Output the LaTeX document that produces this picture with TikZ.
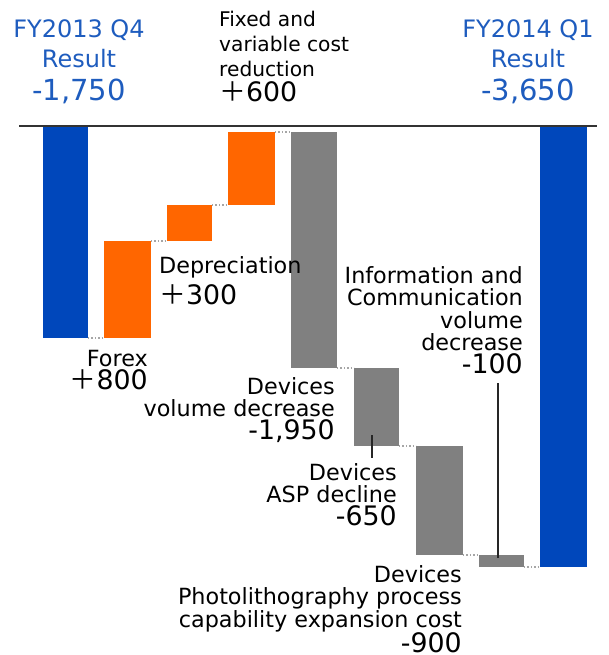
\documentclass[tikz,border=0pt]{standalone}
\usepackage{fontspec}
\setmainfont{DejaVu Sans}
\newfontfamily\cjk{Noto Sans CJK JP}
\definecolor{resblue}{HTML}{0047BB}
\definecolor{restext}{HTML}{1E5CBE}
\definecolor{upcol}{HTML}{FF6600}
\definecolor{downcol}{HTML}{808080}
\newcommand{\fwplus}{{\cjk ＋}}
\newcommand{\amt}[1]{{\fontsize{26.8}{22.5}\selectfont #1}}
\tikzset{
  wbar/.style={inner sep=0pt, outer sep=0pt, anchor=north west},
  link/.style={dotted, downcol!70, line width=1.4pt},
  lead/.style={black!85, line width=1.3pt},
  lbl/.style={inner sep=0pt, font=\fontsize{22.3}{22.6}\selectfont},
  head/.style={inner sep=0pt, text=restext, align=center, font=\fontsize{24}{30}\selectfont},
}
\begin{document}
\begin{tikzpicture}[x=1pt,y=-1pt]
\useasboundingbox (0,0) rectangle (608,655);
\draw[black!80, line width=1.2pt] (19,126) -- (597,126);
% bars
\node[wbar, fill=resblue, minimum width=45pt, minimum height=211pt] (q4) at (43,127) {};
\node[wbar, fill=upcol, minimum width=47pt, minimum height=97pt] (forex) at (104,241) {};
\node[wbar, fill=upcol, minimum width=45pt, minimum height=36pt] (depr) at (167,205) {};
\node[wbar, fill=upcol, minimum width=47pt, minimum height=73pt] (fixed) at (228,132) {};
\node[wbar, fill=downcol, minimum width=46pt, minimum height=236pt] (dvol) at (291,132) {};
\node[wbar, fill=downcol, minimum width=45pt, minimum height=78pt] (asp) at (354,368) {};
\node[wbar, fill=downcol, minimum width=47pt, minimum height=109pt] (photo) at (416,446) {};
\node[wbar, fill=downcol, minimum width=45pt, minimum height=12pt] (ict) at (479,555) {};
\node[wbar, fill=resblue, minimum width=47pt, minimum height=440pt] (q1) at (540,127) {};
% dotted links
\draw[link] (q4.south east) -- (forex.south west);
\draw[link] (forex.north east) -- (depr.south west);
\draw[link] (depr.north east) -- (fixed.south west);
\draw[link] (fixed.north east) -- (dvol.north west);
\draw[link] (dvol.south east) -- (asp.north west);
\draw[link] (asp.south east) -- (photo.north west);
\draw[link] (photo.south east) -- (ict.north west);
\draw[link] (ict.south east) -- (q1.south west);
% labels
\node[head, anchor=north] (q4t) at (79,19) {FY2013 Q4\\Result\\[3pt]{\fontsize{29}{30}\selectfont -1,750}};
\node[head, anchor=north] (q1t) at (528,19) {FY2014 Q1\\Result\\[3pt]{\fontsize{29}{30}\selectfont -3,650}};
\node[lbl, align=left, anchor=north west, font=\fontsize{20.2}{25}\selectfont] (fixedt) at (219,11) {Fixed and\\variable cost\\reduction\\\amt{\fwplus600}};
\node[lbl, align=left, anchor=north west] (deprt) at (159,256) {Depreciation\\[6pt]\amt{\fwplus300}};
\node[lbl, align=right, anchor=north east] (forext) at (148,350) {Forex\\\amt{\fwplus800}};
\node[lbl, align=right, anchor=north east] (dvolt) at (335,377) {Devices\\volume decrease\\\amt{-1,950}};
\node[lbl, align=right, anchor=north east] (aspt) at (397,463) {Devices\\ASP decline\\\amt{-650}};
\node[lbl, align=right, anchor=north east] (photot) at (462,565) {Devices\\Photolithography process\\capability expansion cost\\\amt{-900}};
\node[lbl, align=right, anchor=north east] (ictt) at (523,266) {Information and\\Communication\\volume\\decrease\\\amt{-100}};
% leader lines
\coordinate (aspin) at (372,435);
\coordinate (aspout) at (372,458);
\coordinate (ictin) at (498,558);
\coordinate (ictout) at (498,383);
\draw[lead] (aspin) -- (aspout);
\draw[lead] (ictin) -- (ictout);
\end{tikzpicture}
\end{document}
